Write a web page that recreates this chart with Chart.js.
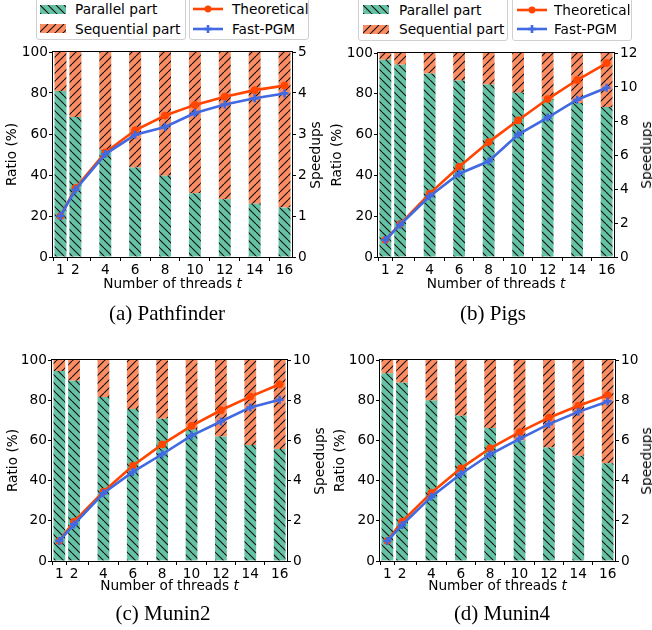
<!DOCTYPE html>
<html>
<head>
<meta charset="utf-8">
<script src="https://cdn.jsdelivr.net/npm/chart.js@4/dist/chart.umd.min.js"></script>
<style>
  html, body { margin:0; padding:0; }
  body { width:652px; height:630px; background:#fff; position:relative; overflow:hidden; font-family:"DejaVu Sans", sans-serif; }
  canvas.chart { position:absolute; }
  .lbl { position:absolute; font-size:13.7px; line-height:14px; color:#000; white-space:nowrap; }
  .mid { transform:translate(-50%,-50%); }
  .vmid { transform:translateY(-50%); }
  .rot { transform:translate(-50%,-50%) rotate(-90deg); }
  .cap { position:absolute; font-family:"Liberation Serif","Times New Roman",serif; font-size:21px; line-height:21px; color:#000; white-space:nowrap; transform:translate(-50%,-50%); }
  .legend { position:absolute; box-sizing:border-box; border:1px solid #d0d0d0; border-radius:3px; background:#fff; }
  canvas.sw { position:absolute; }
</style>
</head>
<body>
<script>
// ---------------- DATA ----------------
const threads = [1, 2, 4, 6, 8, 10, 12, 14, 16];
const threadTickLabels = ['1', '2', '4', '6', '8', '10', '12', '14', '16'];
const ratioTicks = [0, 20, 40, 60, 80, 100];

// (a) Pathfinder
const pathfinderParallel    = [81, 68.3, 52.2, 43.6, 39.6, 31.1, 28.2, 26, 24.1];
const pathfinderSequential  = [19, 31.7, 47.8, 56.4, 60.4, 68.9, 71.8, 74, 75.9];
const pathfinderTheoretical = [1, 1.68, 2.55, 3.09, 3.45, 3.71, 3.91, 4.07, 4.18];
const pathfinderFastPGM     = [1, 1.64, 2.51, 2.98, 3.17, 3.51, 3.72, 3.87, 3.99];
const pathfinderSpeedupTicks = [0, 1, 2, 3, 4, 5];

// (b) Pigs
const pigsParallel    = [96.7, 94.3, 90, 86.5, 84.5, 80.5, 77.5, 75.5, 73.5];
const pigsSequential  = [3.3, 5.7, 10, 13.5, 15.5, 19.5, 22.5, 24.5, 26.5];
const pigsTheoretical = [1, 1.94, 3.73, 5.31, 6.76, 8.04, 9.29, 10.41, 11.41];
const pigsFastPGM     = [1, 1.9, 3.57, 4.9, 5.63, 7.2, 8.2, 9.25, 9.96];
const pigsSpeedupTicks = [0, 2, 4, 6, 8, 10, 12];

// (c) Munin2
const munin2Parallel    = [94.5, 89.7, 81.6, 75.6, 70.8, 65.5, 61.9, 57.7, 55.7];
const munin2Sequential  = [5.5, 10.3, 18.4, 24.4, 29.2, 34.5, 38.1, 42.3, 44.3];
const munin2Theoretical = [1, 1.96, 3.45, 4.74, 5.8, 6.72, 7.5, 8.18, 8.79];
const munin2FastPGM     = [1, 1.82, 3.37, 4.43, 5.31, 6.24, 6.94, 7.64, 8.02];
const munin2SpeedupTicks = [0, 2, 4, 6, 8, 10];

// (d) Munin4
const munin4Parallel    = [93.4, 88.7, 79.8, 72.3, 66.2, 60, 56.5, 52.4, 48.6];
const munin4Sequential  = [6.6, 11.3, 20.2, 27.7, 33.8, 40, 43.5, 47.6, 51.4];
const munin4Theoretical = [1, 1.96, 3.4, 4.61, 5.61, 6.41, 7.13, 7.72, 8.25];
const munin4FastPGM     = [1, 1.79, 3.2, 4.33, 5.31, 6.08, 6.81, 7.42, 7.94];
const munin4SpeedupTicks = [0, 2, 4, 6, 8, 10];

const captions = ['(a) Pathfinder', '(b) Pigs', '(c) Munin2', '(d) Munin4'];
const seriesNames = ['Parallel part', 'Sequential part', 'Theoretical', 'Fast-PGM'];

// ---------------- STYLE ----------------
const GREEN = '#66c2a5', ORANGE = '#fc8d62', RED = '#ff4500', BLUE = '#4169e1';
const FS = 13.7;
Chart.defaults.font.family = '"DejaVu Sans", sans-serif';
Chart.defaults.font.size = FS;
Chart.defaults.color = '#000';

function hatchTile(color, dir) {
  const s = 8;
  const c = document.createElement('canvas');
  c.width = s; c.height = s;
  const g = c.getContext('2d');
  g.fillStyle = color; g.fillRect(0, 0, s, s);
  g.strokeStyle = '#111'; g.lineWidth = 1.1;
  g.beginPath();
  for (let k = -1; k <= 1; k++) {
    if (dir === 'back') { g.moveTo(k * s, 0); g.lineTo(k * s + s, s); }
    else { g.moveTo(k * s + s, 0); g.lineTo(k * s, s); }
  }
  g.stroke();
  return c;
}
const greenTile = hatchTile(GREEN, 'back');
const orangeTile = hatchTile(ORANGE, 'fwd');

const framePlugin = {
  id: 'frame',
  afterDatasetsDraw(chart) {
    const a = chart.chartArea, ctx = chart.ctx;
    ctx.save();
    ctx.strokeStyle = '#000'; ctx.lineWidth = 1;
    ctx.strokeRect(Math.round(a.left) - 0.5, Math.round(a.top) - 0.5,
                   Math.round(a.right - a.left) + 1, Math.round(a.bottom - a.top) + 1);
    ctx.restore();
  }
};

function pts(vals) { return threads.map((t, i) => ({ x: t, y: vals[i] })); }

function addEl(html, cls, x, y, extraStyle) {
  const d = document.createElement('div');
  d.className = cls;
  d.style.left = x + 'px'; d.style.top = y + 'px';
  if (extraStyle) d.style.cssText += extraStyle;
  d.innerHTML = html;
  document.body.appendChild(d);
  return d;
}

function makePanel(p) {
  const cv = document.createElement('canvas');
  cv.className = 'chart';
  cv.width = p.W; cv.height = p.H;
  cv.style.left = p.cl + 'px'; cv.style.top = p.ct + 'px';
  cv.style.width = p.W + 'px'; cv.style.height = p.H + 'px';
  document.body.appendChild(cv);
  const ctx = cv.getContext('2d');
  const gPat = ctx.createPattern(greenTile, 'repeat');
  const oPat = ctx.createPattern(orangeTile, 'repeat');

  const lW = p.pl - p.cl, rW = p.cl + p.W - p.pr, xH = p.ct + p.H - p.pb, pt = p.pt - p.ct;
  const spMax = p.spTicks[p.spTicks.length - 1];
  const spStep = p.spTicks[1] - p.spTicks[0];

  new Chart(ctx, {
    type: 'bar',
    data: {
      datasets: [
        { type: 'line', label: seriesNames[3], data: pts(p.fast), yAxisID: 'y1', xAxisID: 'x',
          borderColor: BLUE, backgroundColor: BLUE, borderWidth: 2.6, tension: 0,
          pointStyle: 'cross', pointRadius: 4, pointBorderWidth: 2.6,
          pointBorderColor: BLUE, pointBackgroundColor: BLUE, order: 0 },
        { type: 'line', label: seriesNames[2], data: pts(p.theo), yAxisID: 'y1', xAxisID: 'x',
          borderColor: RED, backgroundColor: RED, borderWidth: 2.6, tension: 0,
          pointStyle: 'circle', pointRadius: 3.5, pointBorderWidth: 1,
          pointBorderColor: RED, pointBackgroundColor: RED, order: 1 },
        { label: seriesNames[0], data: pts(p.par), backgroundColor: gPat, borderWidth: 0,
          stack: 'ratio', yAxisID: 'y', xAxisID: 'x', categoryPercentage: 0.8, barPercentage: 1.0, order: 2 },
        { label: seriesNames[1], data: pts(p.seq), backgroundColor: oPat, borderWidth: 0,
          stack: 'ratio', yAxisID: 'y', xAxisID: 'x', categoryPercentage: 0.8, barPercentage: 1.0, order: 2 }
      ]
    },
    options: {
      responsive: false, animation: false, events: [],
      layout: { padding: { top: pt, left: 0, right: 0, bottom: 0 } },
      plugins: { legend: { display: false }, tooltip: { enabled: false } },
      scales: {
        x: {
          type: 'linear', min: 0.5, max: 16.5, offset: false, stacked: true,
          afterBuildTicks: s => { s.ticks = threads.map(v => ({ value: v })); },
          ticks: { autoSkip: false, maxRotation: 0, padding: 1,
                   callback: (v) => threadTickLabels[threads.indexOf(v)] },
          grid: { drawOnChartArea: false, drawTicks: true, tickLength: 4, tickColor: '#000', tickWidth: 1 },
          border: { display: false },
          afterFit: s => { s.height = xH; }
        },
        y: {
          position: 'left', stacked: true, min: 0, max: 100,
          afterBuildTicks: s => { s.ticks = ratioTicks.map(v => ({ value: v })); },
          ticks: { padding: 1 },
          grid: { drawOnChartArea: false, drawTicks: true, tickLength: 4, tickColor: '#000', tickWidth: 1 },
          border: { display: false },
          title: { display: true, text: 'Ratio (%)', font: { size: FS }, padding: { top: p.ltx - p.cl - FS * 0.6, bottom: 0 } },
          afterFit: s => { s.width = lW; }
        },
        y1: {
          position: 'right', min: 0, max: spMax,
          afterBuildTicks: s => { s.ticks = p.spTicks.map(v => ({ value: v })); },
          ticks: { padding: 2, stepSize: spStep },
          grid: { drawOnChartArea: false, drawTicks: true, tickLength: 4, tickColor: '#000', tickWidth: 1 },
          border: { display: false },
          afterFit: s => { s.width = rW; }
        }
      }
    },
    plugins: [framePlugin]
  });

  addEl('Number of threads <i>t</i>', 'lbl mid', (p.pl + p.pr) / 2, p.xty);
  addEl('Speedups', 'lbl rot', p.rtx, (p.pt + p.pb) / 2);
  addEl(p.caption, 'cap', p.capx, p.capy);
}

function swatchCanvas(x, y, w, h, drawFn) {
  const c = document.createElement('canvas');
  c.className = 'sw'; c.width = w; c.height = h;
  c.style.left = x + 'px'; c.style.top = y + 'px';
  document.body.appendChild(c);
  drawFn(c.getContext('2d'), w, h);
}

function makeLegend(L) {
  addEl('', 'legend', L.b1l, -10, 'width:' + (L.b1r - L.b1l) + 'px;height:' + (L.bb + 10) + 'px;');
  addEl('', 'legend', L.b2l, -10, 'width:' + (L.b2r - L.b2l) + 'px;height:' + (L.bb + 10) + 'px;');
  const rows = [L.r1, L.r2];
  [greenTile, orangeTile].forEach((tile, i) => {
    swatchCanvas(L.swx, rows[i] - 4.5, 26, 9, (g, w, h) => {
      g.fillStyle = g.createPattern(tile, 'repeat'); g.fillRect(0, 0, w, h);
    });
    addEl(seriesNames[i], 'lbl vmid', L.t1x, rows[i]);
  });
  [[RED, 'circle'], [BLUE, 'cross']].forEach((st, i) => {
    swatchCanvas(L.lnx, rows[i] - 6, 30, 12, (g, w, h) => {
      g.strokeStyle = st[0]; g.fillStyle = st[0]; g.lineWidth = 2.6;
      g.beginPath(); g.moveTo(0, 6); g.lineTo(w, 6); g.stroke();
      if (st[1] === 'circle') { g.beginPath(); g.arc(15, 6, 3.4, 0, Math.PI * 2); g.fill(); }
      else { g.beginPath(); g.moveTo(11, 6); g.lineTo(19, 6); g.moveTo(15, 2); g.lineTo(15, 10); g.stroke(); }
    });
    addEl(seriesNames[i + 2], 'lbl vmid', L.t2x, rows[i]);
  });
}

// ---------------- LAYOUT ----------------
makePanel({ cl: 0, ct: 40, W: 322, H: 255, pl: 53, pr: 292, pt: 52, pb: 257,
  par: pathfinderParallel, seq: pathfinderSequential, theo: pathfinderTheoretical, fast: pathfinderFastPGM,
  spTicks: pathfinderSpeedupTicks, ltx: 12.5, rtx: 315, xty: 283, caption: captions[0], capx: 167, capy: 313 });
makePanel({ cl: 326, ct: 40, W: 326, H: 255, pl: 378, pr: 614, pt: 53, pb: 257,
  par: pigsParallel, seq: pigsSequential, theo: pigsTheoretical, fast: pigsFastPGM,
  spTicks: pigsSpeedupTicks, ltx: 337, rtx: 646, xty: 283, caption: captions[1], capx: 493, capy: 313 });
makePanel({ cl: 0, ct: 345, W: 322, H: 240, pl: 52, pr: 287, pt: 360, pb: 561,
  par: munin2Parallel, seq: munin2Sequential, theo: munin2Theoretical, fast: munin2FastPGM,
  spTicks: munin2SpeedupTicks, ltx: 13, rtx: 319, xty: 585, caption: captions[2], capx: 163, capy: 613 });
makePanel({ cl: 326, ct: 345, W: 326, H: 240, pl: 380, pr: 615, pt: 360, pb: 561,
  par: munin4Parallel, seq: munin4Sequential, theo: munin4Theoretical, fast: munin4FastPGM,
  spTicks: munin4SpeedupTicks, ltx: 340, rtx: 646, xty: 585, caption: captions[3], capx: 502, capy: 613 });

makeLegend({ b1l: 36, b1r: 186, b2l: 189, b2r: 309, bb: 40, r1: 9, r2: 28.5, swx: 40, t1x: 75, lnx: 193, t2x: 232 });
makeLegend({ b1l: 358, b1r: 508, b2l: 512, b2r: 632, bb: 41, r1: 9.5, r2: 29, swx: 363, t1x: 399, lnx: 517, t2x: 554 });
</script>
</body>
</html>
